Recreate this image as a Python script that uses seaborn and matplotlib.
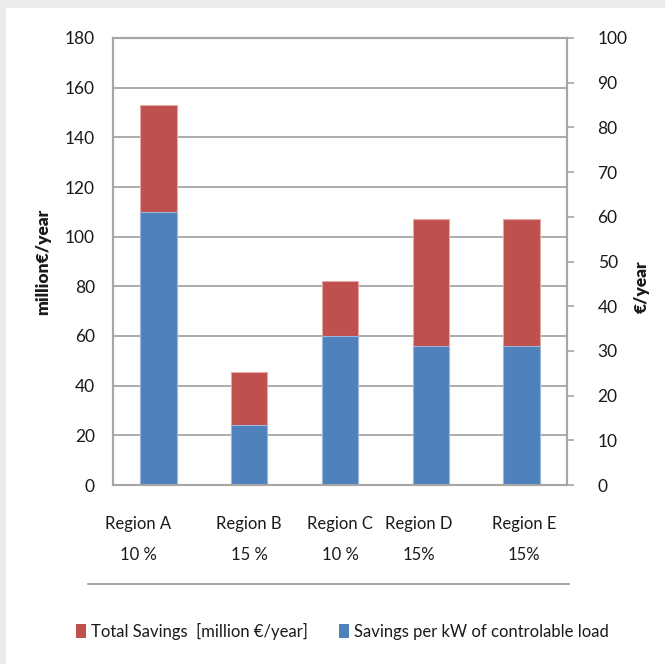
import numpy as np
import pandas as pd
import matplotlib
matplotlib.use("Agg")
import matplotlib.pyplot as plt
from matplotlib.patches import Rectangle, Patch
from matplotlib.lines import Line2D
import seaborn as sns

# Data
regions = ["Region A", "Region B", "Region C", "Region D", "Region E"]
shares = ["10 %", "15 %", "10 %", "15%", "15%"]
per_kw_savings = [110, 24, 60, 56, 56]        # blue segment (bottom)
total_savings = [43, 21.5, 22, 51, 51]        # red segment (stacked on top)
left_ticks = list(range(0, 181, 20))
right_ticks = list(range(0, 101, 10))

RED = "#C0504D"
BLUE = "#4F81BD"
GRID = "#A6A6A6"
TXT = "#1a1a1a"

sns.set_theme(style="white")
plt.rcParams["font.family"] = ["Lato", "DejaVu Sans"]

df = pd.DataFrame({
    "region": regions,
    "blue": per_kw_savings,
    "stack_top": np.array(per_kw_savings) + np.array(total_savings),
})

fig = plt.figure(figsize=(6.65, 6.64), dpi=100)
fig.patch.set_facecolor("#EBEBEB")
fig.patches.append(Rectangle((6 / 665, 0), 1, (664 - 8) / 664,
                             transform=fig.transFigure, facecolor="white",
                             edgecolor="none", zorder=-10))

ax = fig.add_axes([113 / 665, (664 - 485) / 664, 454 / 665, 447 / 664])
ax.set_facecolor("none")

sns.barplot(data=df, x="region", y="stack_top", color=RED, saturation=1,
            width=0.4, edgecolor="#E3A9A7", linewidth=0.8, ax=ax, zorder=3)
sns.barplot(data=df, x="region", y="blue", color=BLUE, saturation=1,
            width=0.4, edgecolor="#9DB7DA", linewidth=0.8, ax=ax, zorder=4)

ax.set_ylim(0, 180)
ax.set_xlim(-0.5, len(regions) - 0.5)
ax.set_yticks(left_ticks)
ax.yaxis.grid(True, color=GRID, linewidth=1.3, zorder=0)
ax.set_axisbelow(True)
ax.tick_params(axis="y", length=0, pad=13, labelsize=12.5, labelcolor=TXT)

# category labels sit slightly off the bar centres
label_offsets = [-0.225, 0.0, 0.0, -0.13, 0.03]
ax.set_xticks(np.arange(len(regions)) + np.array(label_offsets))
ax.set_xticklabels([f"{r}\n{s}" for r, s in zip(regions, shares)],
                   linespacing=2.15)
ax.tick_params(axis="x", length=0, pad=22, labelsize=12, labelcolor=TXT)
ax.set_xlabel("")
ax.set_ylabel("million€/year", fontsize=12.5, fontweight="heavy", color=TXT,
              labelpad=10)

for side in ["left", "bottom", "top", "right"]:
    ax.spines[side].set_visible(True)
    ax.spines[side].set_color(GRID)
    ax.spines[side].set_linewidth(1.5)

ax2 = ax.twinx()
ax2.set_ylim(0, 100)
ax2.set_yticks(right_ticks)
ax2.tick_params(axis="y", direction="out", length=5, width=1.2, color=GRID,
                pad=17, labelsize=12.5, labelcolor=TXT)
ax2.set_ylabel("€/year", fontsize=12.5, fontweight="heavy", color=TXT,
               rotation=90)
ax2.yaxis.set_label_coords(1.146, 0.443)
for side in ["left", "bottom", "top", "right"]:
    ax2.spines[side].set_color(GRID)
    ax2.spines[side].set_linewidth(1.5)
ax2.grid(False)

# separator between the category axis and the legend
fig.add_artist(Line2D([88 / 665, 569 / 665], [(664 - 584) / 664] * 2,
                      transform=fig.transFigure, color=GRID, linewidth=1.5))

handles = [Patch(facecolor=RED, edgecolor="none",
                 label="Total Savings  [million €/year]"),
           Patch(facecolor=BLUE, edgecolor="none",
                 label="Savings per kW of controlable load")]
fig.legend(handles=handles, loc="center", ncol=2,
           bbox_to_anchor=(0.515, (664 - 631) / 664), frameon=False,
           fontsize=12, handlelength=0.6, handleheight=0.9,
           handletextpad=0.3, columnspacing=1.9, labelcolor=TXT)

fig.savefig("out.png", dpi=100, facecolor=fig.get_facecolor())
